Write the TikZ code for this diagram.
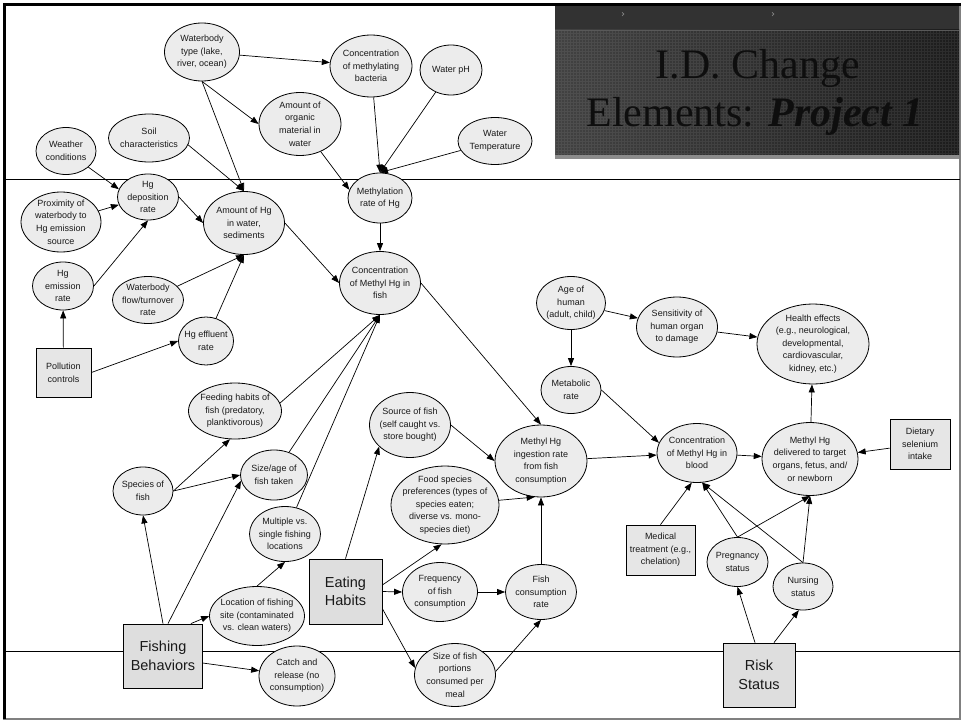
\documentclass[tikz,border=0pt]{standalone}
\usepackage{fontspec}
\setmainfont{Liberation Sans}
\newfontfamily\titlefont{Liberation Serif}
\newfontfamily\chevfont{DejaVu Sans}
\usetikzlibrary{shapes.geometric,arrows.meta}
\definecolor{ellfill}{RGB}{236,236,236}
\definecolor{boxfill}{RGB}{230,230,230}
\definecolor{bigfill}{RGB}{222,222,222}
\definecolor{topbar}{RGB}{50,50,50}
\definecolor{titleL}{RGB}{66,66,66}
\definecolor{titleR}{RGB}{28,28,28}
\definecolor{stripe}{RGB}{140,140,140}
\definecolor{titletext}{RGB}{14,14,14}
\definecolor{txt}{RGB}{25,25,25}
\definecolor{chev}{RGB}{150,150,150}
\tikzset{
  ell/.style={ellipse, draw, line width=0.8bp, fill=ellfill, inner sep=0pt},
  bx/.style={rectangle, draw, line width=0.8bp, fill=boxfill, inner sep=0pt},
  bigbx/.style={rectangle, draw, line width=0.8bp, fill=bigfill, inner sep=0pt},
  lab/.style={align=center, inner sep=0pt, text=txt, font=\fontsize{9bp}{12.6bp}\selectfont},
  biglab/.style={align=center, inner sep=0pt, text=txt, font=\fontsize{14.5bp}{18.5bp}\selectfont},
  arr/.style={-{Triangle[length=8bp,width=6bp]}, line width=0.7bp},
  divider/.style={line width=0.9bp, black},
  chevron/.style={inner sep=0pt, text=chev, font=\chevfont\fontsize{10bp}{10bp}\selectfont},
}
\newcommand\EN[6]{\node[ell, minimum width=#4bp, minimum height=#5bp, label={[lab]center:{#6}}] (#1) at (#2,#3) {};}
\newcommand\BN[6]{\node[bx, minimum width=#4bp, minimum height=#5bp, label={[lab]center:{#6}}] (#1) at (#2,#3) {};}
\newcommand\GN[6]{\node[bigbx, minimum width=#4bp, minimum height=#5bp, label={[biglab]center:{#6}}] (#1) at (#2,#3) {};}
\begin{document}
\begin{tikzpicture}[x=1bp,y=-1bp]
\useasboundingbox (0,0) rectangle (961,721);
\fill[white] (0,0) rectangle (961,721);
% frame
\draw[line width=1.2bp, gray] (960,3) -- (960,719) -- (3,719);
\draw[line width=3.8bp, black] (4.5,719) -- (4.5,4.5) -- (961,4.5);
% dividers
\draw[divider] (6,179) -- (960,179);
\draw[divider] (6,651) -- (960,651);
% title box
\fill[topbar] (555,6.4) rectangle (959,30);
\shade[left color=titleL, right color=titleR] (555,30) rectangle (959,155);
\draw[step=3bp, white, opacity=0.07, line width=0.3bp] (555,31) grid (959,155);
\draw[line width=0.8bp, gray!70!black] (555,30) -- (959,30);
\fill[stripe] (555,155) rectangle (959,159);
\node[chevron] (c1) at (623,15) {›};
\node[chevron] (c2) at (773,15) {›};
\node[anchor=base, inner sep=0pt, text=titletext, font=\titlefont\fontsize{42bp}{48bp}\selectfont] (t1) at (758,79) {I.D. Change};
\node[anchor=base, inner sep=0pt, text=titletext, font=\titlefont\fontsize{42bp}{48bp}\selectfont] (t2) at (755,127) {Elements: \textbf{\textit{Project 1}}};
% nodes
\EN{wb}{202}{52}{75}{58}{Waterbody\\type (lake,\\river, ocean)}
\EN{bact}{371}{66}{82}{62}{Concentration\\of methylating\\bacteria}
\EN{ph}{451}{70}{62}{50}{Water pH}
\EN{org}{300}{124}{82}{63}{Amount of\\organic\\material in\\water}
\EN{temp}{495}{141}{74}{47}{Water\\Temperature}
\EN{weather}{66}{151}{60}{47}{Weather\\conditions}
\EN{soil}{149}{138}{81}{48}{Soil\\characteristics}
\EN{hgdep}{148}{197}{61}{46}{Hg\\deposition\\rate}
\EN{prox}{61}{222}{80}{60}{Proximity of\\waterbody to\\Hg emission\\source}
\EN{amtHg}{244}{223}{81}{63}{Amount of Hg\\in water,\\sediments}
\EN{methyl}{380}{198}{64}{50}{Methylation\\rate of Hg}
\EN{fish}{380}{283}{81}{63}{Concentration\\of Methyl Hg in\\fish}
\EN{hgem}{63}{286}{61}{48}{Hg\\emission\\rate}
\EN{flow}{148}{300}{71}{47}{Waterbody\\flow/turnover\\rate}
\EN{hgeff}{206}{341}{55}{48}{Hg effluent\\rate}
\BN{pol}{63.5}{372.5}{55}{49}{Pollution\\controls}
\EN{feed}{235}{411}{93}{56}{Feeding habits of\\fish (predatory,\\planktivorous)}
\EN{species}{143}{491}{60}{48}{Species of\\fish}
\EN{size}{274}{475}{67}{50}{Size/age of\\fish taken}
\EN{mult}{285}{534}{71}{55}{Multiple vs.\\single fishing\\locations}
\EN{loc}{257}{616}{95}{59}{Location of fishing\\site (contaminated\\vs. clean waters)}
\GN{fb}{163}{656}{79}{64}{Fishing\\Behaviors}
\EN{catch}{297}{676}{76}{60}{Catch and\\release (no\\consumption)}
\GN{eh}{345.5}{591.5}{73}{65}{Eating\\Habits}
\EN{source}{410}{425}{81}{65}{Source of fish\\(self caught vs.\\store bought)}
\EN{food}{445}{505}{108}{78}{Food species\\preferences (types of\\species eaten;\\diverse vs. mono-\\species diet)}
\EN{ingest}{541}{461}{92}{72}{Methyl Hg\\ingestion rate\\from fish\\consumption}
\EN{freq}{440}{592}{75}{59}{Frequency\\of fish\\consumption}
\EN{fcr}{541}{592}{71}{55}{Fish\\consumption\\rate}
\EN{portions}{455}{675}{81}{63}{Size of fish\\portions\\consumed per\\meal}
\EN{age}{571}{303}{69}{53}{Age of\\human\\(adult, child)}
\EN{metab}{571}{390}{60}{47}{Metabolic\\rate}
\EN{sens}{677}{327}{81}{60}{Sensitivity of\\human organ\\to damage}
\EN{health}{813}{344}{112}{80}{Health effects\\(e.g., neurological,\\developmental,\\cardiovascular,\\kidney, etc.)}
\EN{blood}{697}{453}{80}{59}{Concentration\\of Methyl Hg in\\blood}
\EN{deliv}{810}{459}{96}{73}{Methyl Hg\\delivered to target\\organs, fetus, and/\\or newborn}
\BN{sel}{920}{444}{60}{50}{Dietary\\selenium\\intake}
\BN{med}{660.5}{550}{69}{50}{Medical\\treatment (e.g.,\\chelation)}
\EN{preg}{737.5}{562}{61}{49}{Pregnancy\\status}
\EN{nurs}{803}{586.5}{60}{47}{Nursing\\status}
\GN{risk}{759}{675}{72}{64}{Risk\\Status}
% edges
\draw[arr] (wb) -- (bact);
\draw[arr] (wb.south) -- (org.west);
\draw[arr] (wb.south) -- (amtHg.north);
\draw[arr] (soil.-10) -- (amtHg.north);
\draw[arr] (weather) -- (hgdep.165);
\draw[arr] (prox) -- (hgdep.195);
\draw[arr] (hgem.east) -- (hgdep.south);
\draw[arr] (hgdep.east) -- (amtHg.west);
\draw[arr] (org) -- (methyl.165);
\draw[arr] (bact) -- (methyl.north);
\draw[arr] (ph) -- (methyl.north);
\draw[arr] (temp) -- (methyl.north);
\draw[arr] (methyl) -- (fish);
\draw[arr] (amtHg.east) -- (fish.west);
\draw[arr] (flow) -- (amtHg.south);
\draw[arr] (hgeff) -- (amtHg.south);
\draw[arr] (pol) -- (hgem);
\draw[arr] (pol.east) -- (hgeff.west);
\draw[arr] (feed.10) -- (fish.south);
\draw[arr] (size) -- (fish.south);
\draw[arr] (mult) -- (fish.south);
\draw[arr] (species.east) -- (feed.-100);
\draw[arr] (species.east) -- (size.west);
\draw[arr] (fb.north) -- (species.south);
\draw[arr] ([xshift=5bp]fb.north) -- (size.190);
\draw[arr] ([xshift=-12bp]fb.north east) -- (loc.west);
\draw[arr] (loc.north) -- (mult.south);
\draw[arr] (fb.-10) -- (catch);
\draw[arr] (eh.north) -- (source.215);
\draw[arr] (eh.10) -- (food.-95);
\draw[arr] (eh.east) -- (freq.west);
\draw[arr] (eh.-25) -- (portions.170);
\draw[arr] (freq) -- (fcr);
\draw[arr] (portions.5) -- (fcr.south);
\draw[arr] (fcr) -- (ingest);
\draw[arr] (food.5) -- (ingest.-100);
\draw[arr] (source.east) -- (ingest.west);
\draw[arr] (fish.east) -- (ingest.north);
\draw[arr] (ingest) -- (blood);
\draw[arr] (metab.east) -- (blood.165);
\draw[arr] (age) -- (metab);
\draw[arr] (age) -- (sens);
\draw[arr] (sens) -- (health);
\draw[arr] (blood) -- (deliv);
\draw[arr] (deliv) -- (health);
\draw[arr] (sel) -- (deliv);
\draw[arr] (med.north) -- (blood.-100);
\draw[arr] (preg.north) -- (blood.-80);
\draw[arr] (preg.north) -- (deliv.south);
\draw[arr] (nurs.north) -- (blood.-80);
\draw[arr] (nurs.north) -- (deliv.south);
\draw[arr] ([xshift=-4bp]risk.north) -- (preg.south);
\draw[arr] ([xshift=15bp]risk.north) -- (nurs.-100);
\end{tikzpicture}
\end{document}
